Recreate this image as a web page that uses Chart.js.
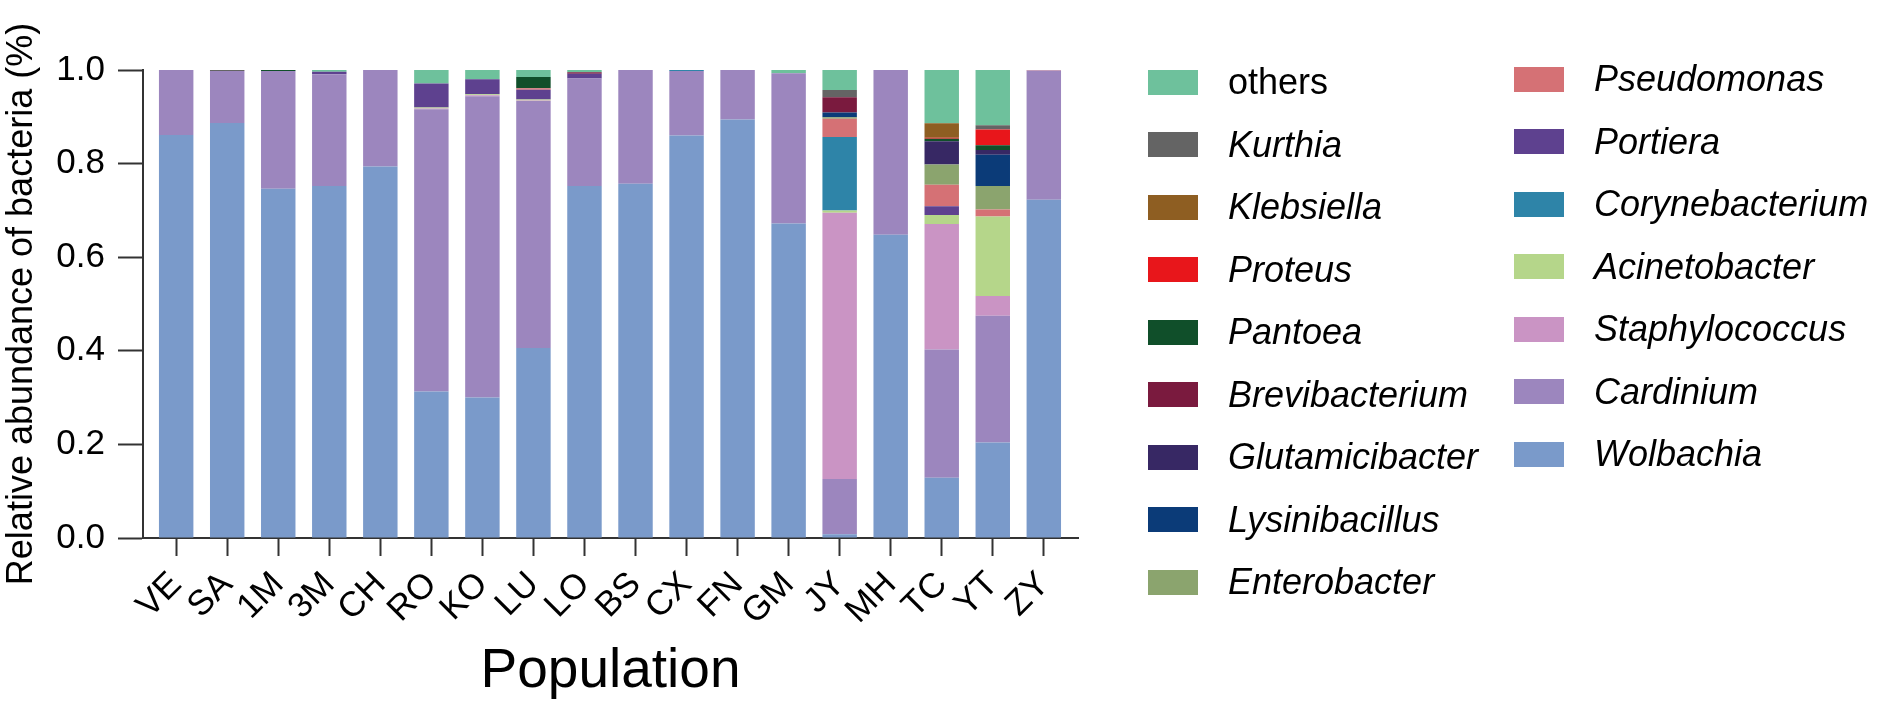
<!DOCTYPE html>
<html>
<head>
<meta charset="utf-8">
<title>Relative abundance of bacteria</title>
<script src="https://cdn.jsdelivr.net/npm/chart.js@4.4.1/dist/chart.umd.min.js"></script>
<style>
  html, body { margin: 0; padding: 0; background: #fff; }
  #wrap { position: relative; width: 1893px; height: 714px; overflow: hidden; }
  #abundanceChart { position: absolute; left: 0; top: 0; }
  .legend-col { position: absolute; font-family: "Liberation Sans", Arial, sans-serif; font-size: 36px; color: #000; }
  .legend-item { height: 62.5px; display: flex; align-items: center; white-space: nowrap; }
  .legend-item i { font-style: italic; }
  .swatch { width: 50px; height: 25px; margin-right: 30px; flex: none; }
</style>
</head>
<body>
<div id="wrap">
  <canvas id="abundanceChart" width="1893" height="714"></canvas>
  <div id="legendLeft" class="legend-col" style="left:1148px; top:51px;"></div>
  <div id="legendRight" class="legend-col" style="left:1514px; top:48px;"></div>
</div>
<script>
// populations along the x axis
const populations = ["VE", "SA", "1M", "3M", "CH", "RO", "KO", "LU", "LO", "BS", "CX", "FN", "GM", "JY", "MH", "TC", "YT", "ZY"];

// y axis ticks
const yTicks = [0.0, 0.2, 0.4, 0.6, 0.8, 1.0];

// relative abundance per population, bottom of stack first
const wolbachia       = [0.861, 0.887, 0.746, 0.752, 0.794, 0.313, 0.300, 0.406, 0.752, 0.757, 0.860, 0.894, 0.672, 0.008, 0.648, 0.129, 0.204, 0.723];
const cardinium       = [0.139, 0.111, 0.252, 0.239, 0.206, 0.603, 0.644, 0.528, 0.230, 0.243, 0.138, 0.106, 0.321, 0.118, 0.352, 0.274, 0.271, 0.276];
const staphylococcus  = [0, 0, 0, 0, 0, 0.002, 0.002, 0.001, 0, 0, 0, 0, 0, 0.569, 0, 0.268, 0.042, 0];
const acinetobacter   = [0, 0, 0, 0, 0, 0.002, 0.002, 0.002, 0, 0, 0, 0, 0, 0.005, 0, 0.019, 0.170, 0];
const corynebacterium = [0, 0, 0, 0, 0, 0, 0, 0, 0, 0, 0.002, 0, 0, 0.157, 0, 0, 0, 0];
const portiera        = [0, 0, 0, 0.005, 0, 0.051, 0.032, 0.021, 0.010, 0, 0, 0, 0, 0, 0, 0.019, 0, 0];
const pseudomonas     = [0, 0, 0, 0, 0, 0, 0, 0.003, 0, 0, 0, 0, 0, 0.039, 0, 0.046, 0.015, 0.001];
const enterobacter    = [0, 0, 0, 0, 0, 0, 0, 0, 0, 0, 0, 0, 0, 0.003, 0, 0.043, 0.050, 0];
const lysinibacillus  = [0, 0, 0, 0, 0, 0, 0, 0, 0, 0, 0, 0, 0, 0.010, 0, 0, 0.067, 0];
const glutamicibacter = [0, 0, 0, 0, 0, 0, 0, 0, 0, 0, 0, 0, 0, 0, 0, 0.050, 0.010, 0];
const brevibacterium  = [0, 0, 0, 0, 0, 0, 0, 0, 0.003, 0, 0, 0, 0, 0.033, 0, 0, 0, 0];
const pantoea         = [0, 0, 0.002, 0, 0, 0, 0, 0.024, 0, 0, 0, 0, 0, 0, 0, 0.005, 0.010, 0];
const proteus         = [0, 0, 0, 0, 0, 0, 0, 0, 0, 0, 0, 0, 0, 0, 0, 0.002, 0.034, 0];
const klebsiella      = [0, 0, 0, 0, 0, 0, 0, 0, 0, 0, 0, 0, 0, 0, 0, 0.031, 0, 0];
const kurthia         = [0, 0.002, 0, 0, 0, 0, 0, 0, 0, 0, 0, 0, 0, 0.015, 0, 0, 0.009, 0];
const others          = [0, 0, 0, 0.004, 0, 0.029, 0.020, 0.015, 0.005, 0, 0, 0, 0.007, 0.043, 0, 0.114, 0.118, 0];

// stack order, bottom to top
const taxa = [
  { name: "Wolbachia",       values: wolbachia },
  { name: "Cardinium",       values: cardinium },
  { name: "Staphylococcus",  values: staphylococcus },
  { name: "Acinetobacter",   values: acinetobacter },
  { name: "Corynebacterium", values: corynebacterium },
  { name: "Portiera",        values: portiera },
  { name: "Pseudomonas",     values: pseudomonas },
  { name: "Enterobacter",    values: enterobacter },
  { name: "Lysinibacillus",  values: lysinibacillus },
  { name: "Glutamicibacter", values: glutamicibacter },
  { name: "Brevibacterium",  values: brevibacterium },
  { name: "Pantoea",         values: pantoea },
  { name: "Proteus",         values: proteus },
  { name: "Klebsiella",      values: klebsiella },
  { name: "Kurthia",         values: kurthia },
  { name: "others",          values: others }
];

// colours per taxon
const colors = {
  Wolbachia: "#7a9aca",
  Cardinium: "#9c86be",
  Staphylococcus: "#ca94c4",
  Acinetobacter: "#b5d68a",
  Corynebacterium: "#2e84a8",
  Portiera: "#5e418f",
  Pseudomonas: "#d57175",
  Enterobacter: "#8ba46e",
  Lysinibacillus: "#0b3b78",
  Glutamicibacter: "#372864",
  Brevibacterium: "#7a1a3e",
  Pantoea: "#104f2a",
  Proteus: "#e8161b",
  Klebsiella: "#8e5e22",
  Kurthia: "#646464",
  others: "#6ec19c"
};

const FONT = '"Liberation Sans", Arial, sans-serif';
const AXIS = '#333';

const ctx = document.getElementById('abundanceChart').getContext('2d');
const abundanceChart = new Chart(ctx, {
  type: 'bar',
  data: {
    datasets: taxa.map(t => ({
      label: t.name,
      data: t.values.map((v, i) => ({ x: i, y: v })),
      backgroundColor: colors[t.name],
      borderWidth: 0,
      barPercentage: 1,
      categoryPercentage: 0.675
    }))
  },
  options: {
    responsive: false,
    animation: false,
    devicePixelRatio: 1,
    layout: { padding: { left: 0, top: 70, right: 815, bottom: 0 } },
    plugins: {
      legend: { display: false },
      tooltip: { enabled: false }
    },
    scales: {
      x: {
        type: 'linear',
        stacked: true,
        offset: false,
        min: -0.65,
        max: 17.67,
        afterFit: s => { s.height = 176; },
        afterBuildTicks: s => { s.ticks = populations.map((p, i) => ({ value: i })); },
        ticks: {
          autoSkip: false,
          minRotation: 45,
          maxRotation: 45,
          padding: 8,
          color: '#000',
          font: { family: FONT, size: 35 },
          callback: v => populations[v]
        },
        grid: { offset: false, drawOnChartArea: false, drawTicks: true, tickLength: 18, tickWidth: 2, tickColor: AXIS },
        border: { display: true, color: AXIS, width: 2 },
        title: {
          display: true,
          text: 'Population',
          color: '#000',
          font: { family: FONT, size: 55, lineHeight: 1.2 },
          padding: { top: 0, bottom: 9 }
        }
      },
      y: {
        stacked: true,
        min: 0,
        max: 1,
        afterFit: s => { s.width = 143; },
        afterBuildTicks: s => { s.ticks = yTicks.map(v => ({ value: v })); },
        ticks: {
          padding: 13,
          color: '#000',
          font: { family: FONT, size: 35 },
          callback: v => Number(v).toFixed(1)
        },
        grid: { drawOnChartArea: false, drawTicks: true, tickLength: 25, tickWidth: 2, tickColor: AXIS },
        border: { display: true, color: AXIS, width: 2 },
        title: {
          display: true,
          text: 'Relative abundance of bacteria (%)',
          color: '#000',
          font: { family: FONT, size: 36, lineHeight: 1.2 },
          padding: { top: 0, bottom: 0 }
        }
      }
    }
  }
});

// legend: two columns, top of stack first
function legendItem(name) {
  const row = document.createElement('div');
  row.className = 'legend-item';
  const sw = document.createElement('span');
  sw.className = 'swatch';
  sw.style.background = colors[name];
  row.appendChild(sw);
  const label = document.createElement(name === 'others' ? 'span' : 'i');
  label.textContent = name;
  row.appendChild(label);
  return row;
}
const legendOrder = taxa.map(t => t.name).reverse();
legendOrder.slice(0, 9).forEach(n => document.getElementById('legendLeft').appendChild(legendItem(n)));
legendOrder.slice(9).forEach(n => document.getElementById('legendRight').appendChild(legendItem(n)));
</script>
</body>
</html>
